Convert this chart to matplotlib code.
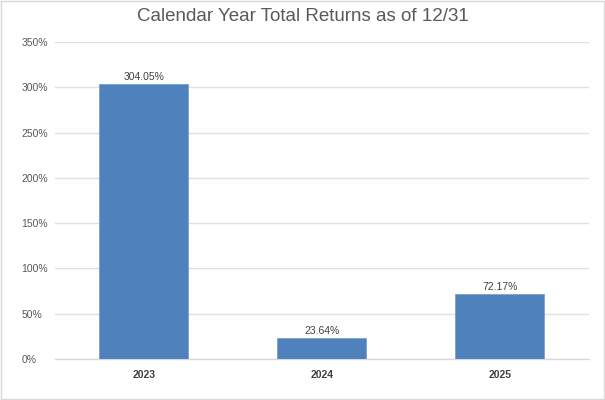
import matplotlib.pyplot as plt
from matplotlib.ticker import FuncFormatter
from matplotlib.patches import Rectangle

years = ['2023', '2024', '2025']
returns = [304.05, 23.64, 72.17]
y_ticks = [0, 50, 100, 150, 200, 250, 300, 350]

plt.rcParams['font.family'] = ['Liberation Sans', 'DejaVu Sans']

fig = plt.figure(figsize=(6.05, 4.0), dpi=100)
ax = fig.add_axes([0.0909, 0.1025, 0.8826, 0.7925])

x = range(len(years))
bars = ax.bar(x, returns, width=0.5, color='#4f81bd', edgecolor='#7da0cf', linewidth=0.6, zorder=3)

for b, v in zip(bars, returns):
    ax.text(b.get_x() + b.get_width() / 2, v + 2, f'{v:.2f}%', ha='center', va='bottom',
            fontsize=7.5, color='#404040')

ax.set_xlim(-0.5, 2.5)
ax.set_ylim(0, 350)
ax.set_yticks(y_ticks)
ax.yaxis.set_major_formatter(FuncFormatter(lambda v, p: f'{v:.0f}%'))
ax.set_xticks(list(x))
ax.set_xticklabels(years, fontsize=7.5, fontweight='bold', color='#404040')
ax.tick_params(axis='y', labelsize=7.5, labelcolor='#595959', length=0, pad=24)
ax.tick_params(axis='x', length=0, pad=8)
for lbl in ax.get_yticklabels():
    lbl.set_horizontalalignment('left')

ax.grid(axis='y', color='#e0e0e0', linewidth=1, zorder=0)
for s in ['top', 'right', 'left']:
    ax.spines[s].set_visible(False)
ax.spines['bottom'].set_color('#d9d9d9')
ax.spines['bottom'].set_linewidth(1)

fig.text(0.5, 0.958, 'Calendar Year Total Returns as of 12/31', ha='center', va='center',
         fontsize=13.5, color='#595959')

fig.patches.append(Rectangle((0.002, 0.003), 0.996, 0.994, transform=fig.transFigure,
                             fill=False, edgecolor='#d9d9d9', linewidth=1))

fig.savefig('out.png', dpi=100)
